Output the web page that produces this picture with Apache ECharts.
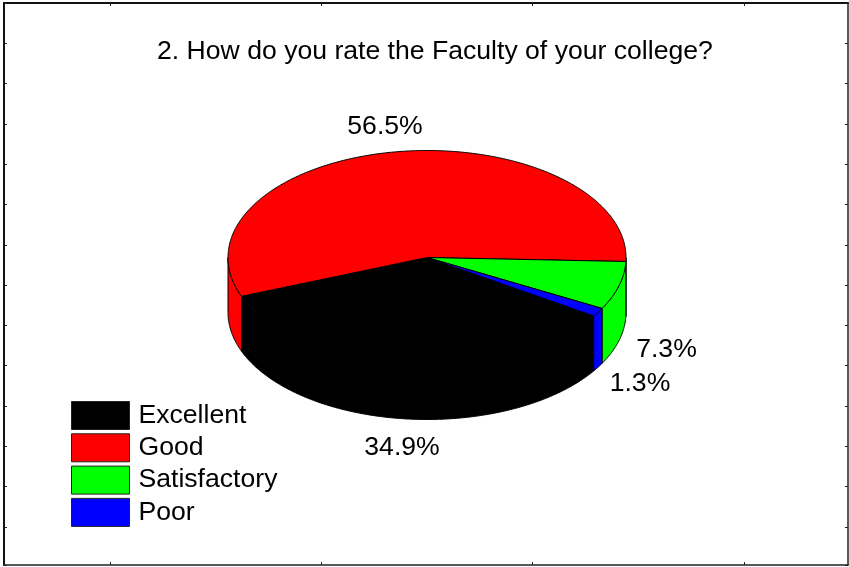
<!DOCTYPE html>
<html>
<head>
<meta charset="utf-8">
<style>html,body{margin:0;padding:0;background:#fff}#c{width:849px;height:567px}</style>
<script src="https://cdn.jsdelivr.net/npm/echarts@6/dist/echarts.min.js"></script>
</head>
<body>
<div id="c"></div>
<script>
const titleText = '2. How do you rate the Faculty of your college?';
const categories = ['Excellent', 'Good', 'Satisfactory', 'Poor'];
const percentages = [34.9, 56.5, 7.3, 1.3];
const colors = ['#000000', '#ff0000', '#00ff00', '#0000ff'];
const labelCentres = [[402, 447.5], [385, 127], [666.5, 350], [640, 383.5]];
const frameTicksX = [0.5017, 1.5017, 2.5017, 3.5017];

const FONT = '"Liberation Sans", Arial, sans-serif';
const FONT_SIZE = 26.6;
const CX = 427, CY = 257.5, RX = 199, RY = 107, DEPTH = 55, START_DEG = 33.1;

const total = percentages.reduce((a, b) => a + b, 0);
function pt(deg, dy) {
  const r = deg * Math.PI / 180;
  return [CX + RX * Math.cos(r), CY + RY * Math.sin(r) + (dy || 0)];
}
function arc(from, to, dy) {
  const out = [];
  const n = Math.max(2, Math.ceil(Math.abs(to - from) * 2));
  for (let i = 0; i <= n; i++) out.push(pt(from + (to - from) * i / n, dy));
  return out;
}
function renderSlice(index) {
  return function (params, api) {
    const value = api.value(0);
    let before = 0;
    for (let i = 0; i < index; i++) before += percentages[i];
    const a0 = START_DEG + before / total * 360;
    const a1 = a0 + value / total * 360;
    const children = [];
    const style = { fill: colors[index], stroke: '#000', lineWidth: 1, lineJoin: 'round' };
    // the visible front wall is the part of the slice in the 0..180 degree range
    [[0, 180], [360, 540]].forEach(function (win) {
      const s = Math.max(a0, win[0]), e = Math.min(a1, win[1]);
      if (e > s) {
        const top = arc(s, e, 0), bottom = arc(e, s, DEPTH);
        children.push({ type: 'polygon', silent: true, shape: { points: top.concat(bottom) }, style: style });
      }
    });
    const lid = [[CX, CY]].concat(arc(a0, a1, 0));
    children.push({ type: 'polygon', silent: true, shape: { points: lid }, style: style });
    children.push({
      type: 'text', silent: true,
      style: {
        x: labelCentres[index][0], y: labelCentres[index][1],
        text: value.toFixed(1) + '%', fill: '#000',
        font: FONT_SIZE + 'px ' + FONT, align: 'center', verticalAlign: 'middle'
      }
    });
    return { type: 'group', children: children };
  };
}

const chart = echarts.init(document.getElementById('c'), null, { renderer: 'canvas' });
const frameX = {
  type: 'value', min: 0, max: 3.994, gridIndex: 0,
  axisTick: { show: true, inside: true, length: 3, customValues: frameTicksX, lineStyle: { color: '#222', width: 1 } },
  axisLabel: { show: false }, splitLine: { show: false }
};
const frameY = {
  type: 'value', min: 0, max: 13.945, interval: 1, inverse: true, gridIndex: 0,
  axisTick: { show: true, inside: true, length: 3, lineStyle: { color: '#222', width: 1 } },
  axisLabel: { show: false }, splitLine: { show: false }
};
chart.setOption({
  animation: false,
  backgroundColor: '#fff',
  title: {
    text: titleText, left: 157, top: 38, padding: 0,
    textStyle: { fontFamily: FONT, fontSize: FONT_SIZE, fontWeight: 'normal', color: '#000' }
  },
  grid: { left: 4, top: 3, width: 844, height: 562, containLabel: false },
  xAxis: [
    Object.assign({}, frameX, { position: 'bottom', axisLine: { show: true, onZero: false, lineStyle: { color: '#222', width: 1.5 } } }),
    Object.assign({}, frameX, { position: 'top', axisLine: { show: true, onZero: false, lineStyle: { color: '#111', width: 2 } } })
  ],
  yAxis: [
    Object.assign({}, frameY, { position: 'left', axisLine: { show: true, onZero: false, lineStyle: { color: '#111', width: 2 } } }),
    Object.assign({}, frameY, { position: 'right', axisLine: { show: true, onZero: false, lineStyle: { color: '#222', width: 1.5 } } })
  ],
  legend: {
    orient: 'vertical', left: 71, top: 401, padding: 0,
    itemWidth: 58, itemHeight: 28, itemGap: 3.3,
    icon: 'rect', data: categories,
    selectedMode: false,
    itemStyle: { borderColor: '#222', borderWidth: 1 },
    textStyle: { fontFamily: FONT, fontSize: FONT_SIZE, lineHeight: 28, color: '#000', padding: [0, 0, 0, 4] }
  },
  series: categories.map(function (name, i) {
    return {
      name: name, type: 'custom', coordinateSystem: 'none',
      itemStyle: { color: colors[i] },
      data: [[percentages[i]]],
      renderItem: renderSlice(i)
    };
  })
});
</script>
</body>
</html>
